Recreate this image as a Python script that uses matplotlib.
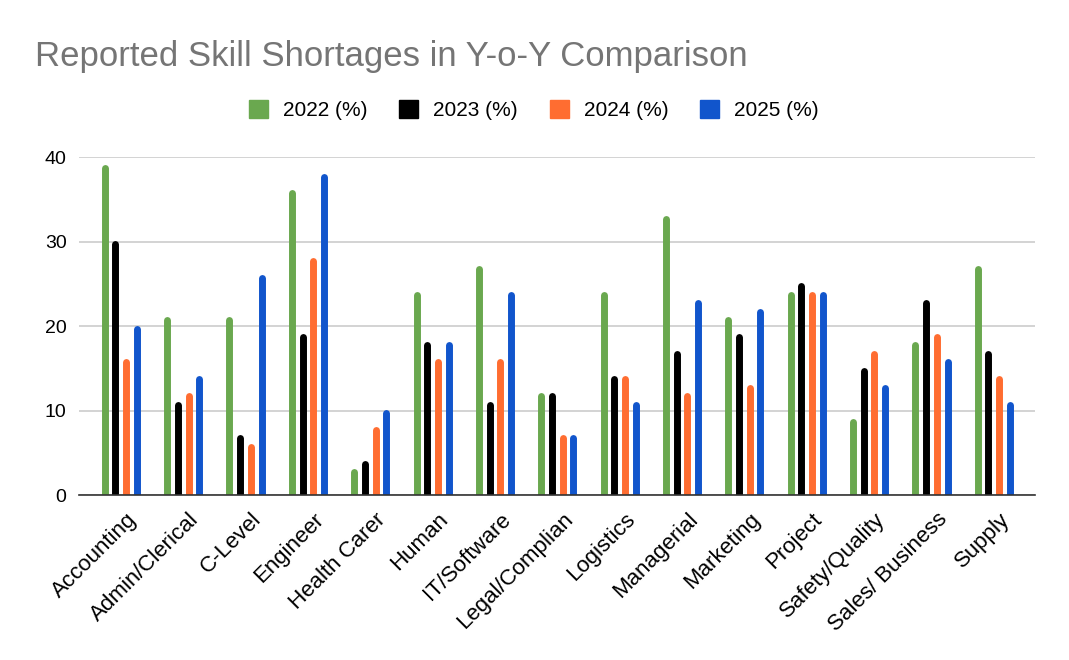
import matplotlib.pyplot as plt
from matplotlib.patches import Patch
from matplotlib.transforms import ScaledTranslation
import numpy as np

plt.rcParams["font.family"] = ["Liberation Sans", "DejaVu Sans"]

categories = ["Accounting", "Admin/Clerical", "C-Level", "Engineer", "Health Carer",
              "Human", "IT/Software", "Legal/Complian", "Logistics", "Managerial",
              "Marketing", "Project", "Safety/Quality", "Sales/ Business", "Supply"]
y2022 = [39, 21, 21, 36, 3, 24, 27, 12, 24, 33, 21, 24, 9, 18, 27]
y2023 = [30, 11, 7, 19, 4, 18, 11, 12, 14, 17, 19, 25, 15, 23, 17]
y2024 = [16, 12, 6, 28, 8, 16, 16, 7, 14, 12, 13, 24, 17, 19, 14]
y2025 = [20, 14, 26, 38, 10, 18, 24, 7, 11, 23, 22, 24, 13, 16, 11]
series_labels = ["2022 (%)", "2023 (%)", "2024 (%)", "2025 (%)"]
colors = ["#6aa84f", "#000000", "#ff6d31", "#1155cc"]

fig = plt.figure(figsize=(10.69, 6.6), dpi=100)
ax = fig.add_axes([0.0739, 0.25, 0.8943, 0.512])

x = np.arange(len(categories))
offsets = [-0.257, -0.086, 0.086, 0.257]
for vals, off, c in zip([y2022, y2023, y2024, y2025], offsets, colors):
    ax.vlines(x + off, 0, np.array(vals) - 0.3, colors=c, linewidth=5.0,
              capstyle="round", zorder=3)

ax.set_xlim(-0.67, 14.66)
ax.set_ylim(0, 40)
ax.set_yticks([0, 10, 20, 30, 40])
ax.grid(axis="y", color="#cccccc", linewidth=1.2, zorder=0)
ax.set_axisbelow(True)
for s in ["top", "right", "left"]:
    ax.spines[s].set_visible(False)
ax.spines["bottom"].set_color("#333333")
ax.spines["bottom"].set_linewidth(1.2)
ax.spines["bottom"].set_zorder(4)
ax.tick_params(axis="y", length=0, labelsize=14, pad=9)
ax.tick_params(axis="x", length=0, labelsize=16, pad=10)
ax.set_xticks(x)
ax.set_xticklabels(categories, rotation=45, ha="right", rotation_mode="anchor")
shift = ScaledTranslation(5 / 100, 0, fig.dpi_scale_trans)
for lbl in ax.get_xticklabels():
    lbl.set_transform(lbl.get_transform() + shift)

fig.text(0.033, 0.9005, "Reported Skill Shortages in Y-o-Y Comparison",
         fontsize=25, color="#757575", ha="left", va="baseline")

handles = [Patch(facecolor=c, edgecolor=c, label=l) for c, l in zip(colors, series_labels)]
fig.legend(handles=handles, loc="center", bbox_to_anchor=(0.4995, 0.833), ncol=4,
           frameon=False, fontsize=15, handlelength=0.9, handleheight=0.9,
           handletextpad=0.72, columnspacing=1.54)

plt.savefig("out.png", dpi=100)
